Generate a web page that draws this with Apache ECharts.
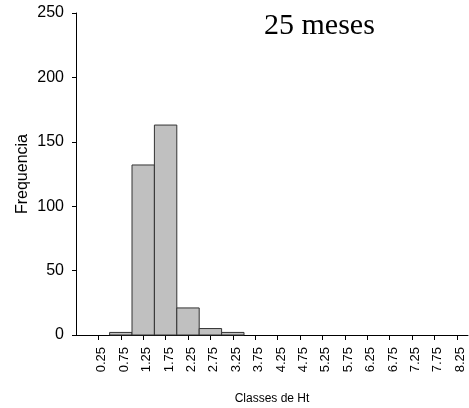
<!DOCTYPE html>
<html>
<head>
<meta charset="utf-8">
<script src="https://cdn.jsdelivr.net/npm/echarts@6/dist/echarts.min.js"></script>
<style>html,body{margin:0;padding:0;background:#fff}#c{width:469px;height:408px}</style>
</head>
<body>
<div id="c"></div>
<script>
const classes = [0.25, 0.75, 1.25, 1.75, 2.25, 2.75, 3.25, 3.75, 4.25, 4.75, 5.25, 5.75, 6.25, 6.75, 7.25, 7.75, 8.25];
const freq = [0, 2, 132, 163, 21, 5, 2, 0, 0, 0, 0, 0, 0, 0, 0, 0, 0];
const yTicks = [0, 50, 100, 150, 200, 250];
const binWidth = 0.5;
const titleText = '25 meses';

const chart = echarts.init(document.getElementById('c'));
const data = classes.map((c, i) => [c, freq[i]]);
chart.setOption({
  animation: false,
  title: {
    text: titleText, left: 259, top: 6,
    textStyle: {fontFamily: 'Liberation Serif', fontWeight: 'normal', fontSize: 30, color: '#000'}
  },
  grid: {left: 76, right: 1, top: 13, bottom: 73, containLabel: false, outerBoundsMode: 'none'},
  xAxis: {
    type: 'value', min: -0.25, max: 8.5, interval: 0.5,
    name: 'Classes de Ht', nameLocation: 'middle', nameGap: 58, nameMoveOverlap: false,
    nameTextStyle: {fontFamily: 'Liberation Sans', fontSize: 12, color: '#000'},
    axisLine: {show: true, onZero: false, lineStyle: {color: '#000', width: 1}},
    axisTick: {show: true, length: 5, customValues: classes, lineStyle: {color: '#000'}},
    axisLabel: {rotate: 90, margin: 12, verticalAlign: 'top', lineHeight: 7, customValues: classes, fontFamily: 'Liberation Sans', fontSize: 13, color: '#000',
      formatter: v => v.toFixed(2)},
    splitLine: {show: false}
  },
  yAxis: {
    type: 'value', min: 0, max: 250, interval: 50,
    name: 'Frequencia', nameLocation: 'middle', nameGap: 45, nameMoveOverlap: false,
    nameTextStyle: {fontFamily: 'Liberation Sans', fontSize: 16, color: '#000'},
    axisLine: {show: true, onZero: false, lineStyle: {color: '#000', width: 1}},
    axisTick: {show: true, length: 4, lineStyle: {color: '#000'}},
    axisLabel: {margin: 12, fontFamily: 'Liberation Sans', fontSize: 16, color: '#000',
      customValues: yTicks},
    splitLine: {show: false}
  },
  series: [{
    type: 'custom',
    data: data,
    encode: {x: 0, y: 1},
    renderItem: function (params, api) {
      const x = api.value(0), v = api.value(1);
      if (!v) return null;
      const p0 = api.coord([x - binWidth / 2, v]);
      const p1 = api.coord([x + binWidth / 2, 0]);
      return {
        type: 'rect',
        shape: {x: p0[0], y: p0[1], width: p1[0] - p0[0], height: p1[1] - p0[1]},
        style: {fill: '#c0c0c0', stroke: '#333', lineWidth: 1}
      };
    }
  }]
});
</script>
</body>
</html>
